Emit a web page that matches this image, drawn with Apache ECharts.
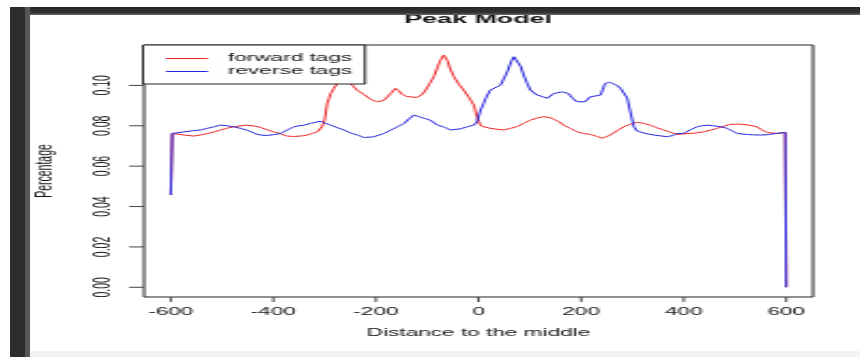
<!DOCTYPE html>
<html>
<head>
<meta charset="utf-8">
<script src="https://cdn.jsdelivr.net/npm/echarts@6/dist/echarts.min.js"></script>
<style>
  html, body { margin: 0; padding: 0; background: #fff; overflow: hidden; }
  #wrap { position: relative; width: 860px; height: 357px; overflow: hidden; background: #fff; }
  /* the plot is laid out on a narrow canvas and widened horizontally */
  #chart { position: absolute; left: 0; top: 0; width: 400px; height: 357px;
           transform: scaleX(2.15); transform-origin: 0 0; }
  .frame { position: absolute; }
  #barTop { left: 10px; top: 7px; width: 850px; height: 8px;
            background: linear-gradient(#262626, #333 70%, #6a6a6a); }
  #barLeft { left: 10px; top: 7px; width: 15px; height: 350px; background: #2c2c2c; }
  #barLeftEdge { left: 25px; top: 7px; width: 5px; height: 350px; background: #565656; }
  #barBottom { left: 30px; top: 351px; width: 830px; height: 6px; background: #f3f3f3; }
</style>
</head>
<body>
<div id="wrap">
  <div id="chart"></div>
  <div class="frame" id="barTop"></div>
  <div class="frame" id="barLeft"></div>
  <div class="frame" id="barLeftEdge"></div>
  <div class="frame" id="barBottom"></div>
</div>
<script>
// Peak model: tag density of forward and reverse strands around the peak centre
const seriesNames = ['forward tags', 'reverse tags'];

const forwardPos = [-600, -597, -585, -574, -555, -540, -528, -515, -503, -490, -477, -463, -451, -438, -425,
  -412, -399, -386, -373, -360, -353, -343, -334, -324, -314, -305, -300, -295, -288, -282, -275, -269, -260,
  -249, -243, -236, -223, -210, -197, -185, -171, -162, -156, -149, -140, -132, -120, -110, -103, -95, -87,
  -80, -74, -68, -61, -55, -48, -38, -29, -20, -9, -3, 4, 12, 23, 36, 49, 62, 75, 88, 101, 114, 127, 140,
  147, 157, 166, 179, 192, 205, 218, 230, 241, 249, 257, 270, 283, 296, 309, 322, 335, 348, 361, 374, 387,
  400, 413, 426, 439, 452, 465, 478, 491, 504, 517, 530, 543, 552, 562, 572, 582, 598, 600];
const forwardVal = [0.0457, 0.0762, 0.0758, 0.0754, 0.0749, 0.0755, 0.0762, 0.0770, 0.0779, 0.0788, 0.0795,
  0.0800, 0.0803, 0.0799, 0.0792, 0.0780, 0.0770, 0.0760, 0.0749, 0.0747, 0.0746, 0.0750, 0.0754, 0.0762,
  0.0770, 0.0795, 0.0830, 0.0910, 0.0960, 0.0985, 0.1012, 0.1018, 0.1016, 0.1010, 0.0993, 0.0975, 0.0955,
  0.0930, 0.0919, 0.0925, 0.0960, 0.0985, 0.0975, 0.0955, 0.0945, 0.0936, 0.0940, 0.0955, 0.0977, 0.1010,
  0.1043, 0.1090, 0.1125, 0.1150, 0.1125, 0.1080, 0.1043, 0.1005, 0.0977, 0.0945, 0.0902, 0.0845, 0.0800,
  0.0792, 0.0787, 0.0783, 0.0779, 0.0787, 0.0795, 0.0812, 0.0828, 0.0838, 0.0845, 0.0840, 0.0833, 0.0820,
  0.0803, 0.0787, 0.0770, 0.0762, 0.0757, 0.0748, 0.0738, 0.0746, 0.0754, 0.0775, 0.0795, 0.0808, 0.0817,
  0.0812, 0.0803, 0.0790, 0.0779, 0.0768, 0.0757, 0.0760, 0.0762, 0.0765, 0.0770, 0.0778, 0.0787, 0.0798,
  0.0807, 0.0808, 0.0807, 0.0802, 0.0795, 0.0780, 0.0767, 0.0764, 0.0762, 0.0767, 0.0000];

const reversePos = [-600, -597, -585, -574, -558, -542, -529, -516, -503, -490, -477, -464, -451, -444, -434,
  -425, -412, -399, -386, -373, -360, -350, -340, -327, -317, -308, -300, -288, -275, -262, -249, -236, -223,
  -217, -205, -197, -184, -171, -158, -145, -135, -126, -116, -106, -94, -80, -68, -55, -48, -35, -22, -9,
  -3, 4, 10, 14, 23, 30, 43, 56, 64, 69, 75, 82, 88, 95, 101, 114, 124, 134, 141, 147, 163, 175, 184, 192,
  208, 218, 229, 238, 247, 256, 264, 270, 277, 290, 296, 303, 309, 325, 342, 355, 368, 380, 387, 400, 413,
  426, 436, 446, 458, 472, 485, 494, 504, 523, 536, 549, 565, 580, 598, 600];
const reverseVal = [0.0457, 0.0762, 0.0766, 0.0770, 0.0775, 0.0779, 0.0787, 0.0795, 0.0803, 0.0800, 0.0795,
  0.0787, 0.0778, 0.0770, 0.0760, 0.0754, 0.0752, 0.0756, 0.0762, 0.0779, 0.0795, 0.0800, 0.0803, 0.0812,
  0.0818, 0.0822, 0.0815, 0.0803, 0.0790, 0.0779, 0.0764, 0.0754, 0.0742, 0.0738, 0.0745, 0.0754, 0.0762,
  0.0779, 0.0795, 0.0812, 0.0835, 0.0853, 0.0845, 0.0837, 0.0828, 0.0803, 0.0795, 0.0779, 0.0778, 0.0785,
  0.0795, 0.0803, 0.0820, 0.0878, 0.0910, 0.0936, 0.0977, 0.0985, 0.1001, 0.1067, 0.1120, 0.1142, 0.1138,
  0.1095, 0.1051, 0.1010, 0.0977, 0.0952, 0.0945, 0.0936, 0.0945, 0.0960, 0.0968, 0.0960, 0.0935, 0.0919,
  0.0919, 0.0944, 0.0948, 0.0952, 0.1010, 0.1015, 0.1015, 0.1000, 0.0985, 0.0936, 0.0869, 0.0795, 0.0774,
  0.0762, 0.0754, 0.0750, 0.0746, 0.0752, 0.0762, 0.0762, 0.0780, 0.0795, 0.0800, 0.0803, 0.0800, 0.0795,
  0.0787, 0.0775, 0.0762, 0.0757, 0.0755, 0.0754, 0.0756, 0.0762, 0.0767, 0.0000];

const xTicks = [-600, -400, -200, 0, 200, 400, 600];
const yTicks = [0.00, 0.02, 0.04, 0.06, 0.08, 0.10];

const FONT = '"Liberation Sans", Arial, sans-serif';
const X_RANGE = [-652, 652];
const Y_RANGE = [-0.0048, 0.1200];
const Y_TICK_LEN = 7;
const X_TICK_LEN = 5;

function pairs(xs, ys) {
  return xs.map((x, i) => [x, ys[i]]);
}

const chart = echarts.init(document.getElementById('chart'), null, { renderer: 'canvas' });

chart.setOption({
  animation: false,
  backgroundColor: 'transparent',
  title: {
    text: 'Peak Model',
    left: 188,
    top: 13,
    padding: 0,
    textStyle: { fontFamily: FONT, fontSize: 12.5, fontWeight: 'bold', color: '#111' }
  },
  legend: {
    data: seriesNames,
    orient: 'vertical',
    left: 66.5,
    top: 45,
    padding: [8, 6, 7, 10.7],
    itemGap: 2,
    itemWidth: 23.8,
    itemHeight: 10,
    icon: 'path://M0,4.5H19.5V5.5H0Z M23.8,0H23.81V10H23.8Z',
    backgroundColor: '#fff',
    borderColor: '#222',
    borderWidth: 1,
    borderRadius: 0,
    textStyle: { fontFamily: FONT, fontSize: 10.5, color: '#111' }
  },
  grid: {
    show: true, left: 67, right: 21.9, top: 45, bottom: 60,
    borderColor: '#222', borderWidth: 1, backgroundColor: 'transparent'
  },
  xAxis: {
    type: 'value',
    min: X_RANGE[0],
    max: X_RANGE[1],
    name: 'Distance to the middle',
    nameLocation: 'middle',
    nameGap: 31,
    nameTextStyle: { fontFamily: FONT, fontSize: 10.5, color: '#111' },
    axisLine: { show: false, onZero: false },
    splitLine: { show: false },
    axisTick: { show: false, customValues: xTicks },
    axisLabel: {
      customValues: xTicks,
      margin: 10,
      fontFamily: FONT,
      fontSize: 10.5,
      color: '#111',
      formatter: v => String(v)
    }
  },
  yAxis: {
    type: 'value',
    min: Y_RANGE[0],
    max: Y_RANGE[1],
    name: 'Percentage',
    nameLocation: 'middle',
    nameGap: 40.5,
    nameTextStyle: { fontFamily: FONT, fontSize: 10.5, color: '#111' },
    axisLine: { show: false, onZero: false },
    splitLine: { show: false },
    axisTick: { show: false, customValues: yTicks },
    axisLabel: {
      customValues: yTicks,
      rotate: 90,
      margin: 13,
      fontFamily: FONT,
      fontSize: 10.5,
      color: '#111',
      formatter: v => v.toFixed(2)
    }
  },
  series: [
    {
      name: seriesNames[0],
      type: 'line',
      data: pairs(forwardPos, forwardVal),
      showSymbol: false,
      symbol: 'none',
      color: '#ee2222',
      lineStyle: { width: 1, color: '#ee2222' },
      z: 2
    },
    {
      name: seriesNames[1],
      type: 'line',
      data: pairs(reversePos, reverseVal),
      showSymbol: false,
      symbol: 'none',
      color: '#2222dd',
      lineStyle: { width: 1, color: '#2222dd' },
      z: 3
    }
  ]
});

// outer tick strokes, placed through the axes' own value-to-pixel mapping
const tickLines = [];
yTicks.forEach(v => {
  const p = chart.convertToPixel({ gridIndex: 0 }, [X_RANGE[0], v]);
  tickLines.push({
    type: 'line', silent: true, z: 100,
    shape: { x1: p[0] - Y_TICK_LEN, y1: p[1], x2: p[0], y2: p[1] },
    style: { stroke: '#444', lineWidth: 1 }
  });
});
xTicks.forEach(v => {
  const p = chart.convertToPixel({ gridIndex: 0 }, [v, Y_RANGE[0]]);
  tickLines.push({
    type: 'line', silent: true, z: 100,
    shape: { x1: p[0], y1: p[1], x2: p[0], y2: p[1] + X_TICK_LEN },
    style: { stroke: '#444', lineWidth: 1 }
  });
});
chart.setOption({ graphic: { elements: tickLines } });
</script>
</body>
</html>
